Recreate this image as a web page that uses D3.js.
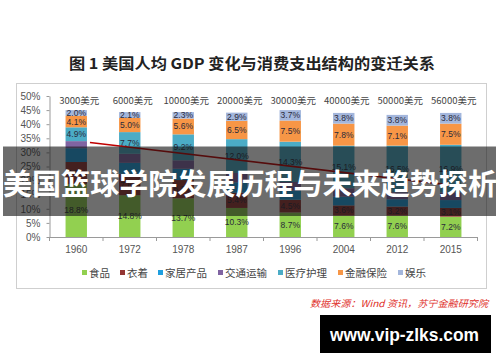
<!DOCTYPE html>
<meta charset="utf-8">
<head>
    <script type="text/javascript" src="https://d3js.org/d3.v7.min.js"></script>
    <style>
        body { margin: 0; background: #fff; }
        text { font-family: "Liberation Sans", Arial, "Noto Sans CJK SC", sans-serif; }
        .cjk { font-family: "Noto Sans CJK SC", sans-serif; }
    </style>
    <title></title>
</head>
<body>
<script>

    // data (shares in %)
    var years = ["1960", "1972", "1978", "1987", "1996", "2004", "2012", "2015"];
    var gdpLabels = ["3000美元", "6000美元", "10000美元", "20000美元", "30000美元", "40000美元", "50000美元", "56000美元"];
    var seriesNames = ["食品", "衣着", "家居产品", "交通运输", "医疗护理", "金融保险", "娱乐"];
    var food      = [18.8, 14.8, 13.7, 10.3, 8.7, 7.6, 7.6, 7.2];
    var clothing  = [7.8, 7.6, 6.5, 5.4, 4.5, 3.6, 3.2, 3.1];
    var household = [4.9, 3.9, 4.0, 3.7, 3.3, 3.1, 2.6, 2.8];
    var transport = [2.5, 3.2, 3.0, 3.3, 3.0, 3.0, 2.5, 2.7];
    var medical   = [4.9, 7.7, 9.2, 12.0, 14.3, 15.1, 16.5, 16.9];
    var finance   = [4.1, 5.0, 5.6, 6.5, 7.5, 7.8, 7.1, 7.5];
    var leisure   = [2.0, 2.1, 2.3, 2.9, 3.7, 3.8, 3.8, 3.8];
    var yTicks = [0, 5, 10, 15, 20, 25, 30, 35, 40, 45, 50];
    // series that carry value labels in the original
    var labelled = ["食品", "衣着", "医疗护理", "金融保险", "娱乐"];

    var colors = ["#92d050", "#943634", "#1f9fdf", "#8064a2", "#4bacc6", "#f79646", "#a3b6dc"];

    var allSeries = [food, clothing, household, transport, medical, finance, leisure];
    var rows = years.map(function (y, i) {
        var r = {year: y};
        seriesNames.forEach(function (s, k) { r[s] = allSeries[k][i]; });
        return r;
    });

    var width = 500, height = 362;
    var svg = d3.select("body").append("svg")
        .attr("width", width)
        .attr("height", height);

    // title
    svg.append("text")
        .attr("class", "cjk")
        .attr("x", 69).attr("y", 69)
        .attr("textLength", 366)
        .attr("lengthAdjust", "spacingAndGlyphs")
        .attr("font-size", "15px")
        .attr("font-weight", "bold")
        .attr("fill", "#222")
        .text("图 1  美国人均 GDP 变化与消费支出结构的变迁关系");

    // chart frame
    svg.append("rect")
        .attr("x", 16.5).attr("y", 83.5)
        .attr("width", 470).attr("height", 205)
        .attr("fill", "none")
        .attr("stroke", "#cfcfcf");

    var x = d3.scaleBand().domain(years).range([49.5, 477.5]).paddingInner(0.6).paddingOuter(0.3);
    var y = d3.scaleLinear().domain([0, 50]).range([237, 96]);

    // y axis
    var yAxis = svg.append("g")
        .attr("transform", "translate(49.5,0)")
        .call(d3.axisLeft(y).tickValues(yTicks).tickFormat(function (d) { return d + "%"; })
            .tickSize(3).tickSizeOuter(0).tickPadding(6));
    yAxis.select(".domain").attr("stroke", "#9a9a9a");
    yAxis.selectAll(".tick line").attr("stroke", "#9a9a9a");
    yAxis.selectAll(".tick text").attr("fill", "#555").attr("font-size", "10px");

    // x axis
    var xAxis = svg.append("g")
        .attr("transform", "translate(0,237)")
        .call(d3.axisBottom(x).tickSize(0).tickSizeOuter(0).tickPadding(9));
    xAxis.select(".domain").attr("stroke", "#9a9a9a");
    xAxis.selectAll(".tick text").attr("fill", "#555").attr("font-size", "10px");
    var gap = (x.step() - x.bandwidth()) / 2;
    var bounds = years.map(function (d) { return x(d) - gap; }).concat([x(years[years.length - 1]) + x.bandwidth() + gap]);
    svg.append("g").selectAll("line").data(bounds).join("line")
        .attr("x1", function (d) { return d; }).attr("x2", function (d) { return d; })
        .attr("y1", 237).attr("y2", 241)
        .attr("stroke", "#9a9a9a");

    // stacked bars
    var stack = d3.stack().keys(seriesNames)(rows);
    var layers = svg.append("g").selectAll("g").data(stack).join("g")
        .attr("fill", function (d, i) { return colors[i]; });
    layers.selectAll("rect").data(function (d) { return d; }).join("rect")
        .attr("x", function (d) { return x(d.data.year); })
        .attr("width", x.bandwidth())
        .attr("y", function (d) { return y(d[1]); })
        .attr("height", function (d) { return y(d[0]) - y(d[1]); });

    // value labels
    svg.append("g").selectAll("g").data(stack.filter(function (s) { return labelled.indexOf(s.key) >= 0; }))
        .join("g")
        .selectAll("text").data(function (d) { return d; }).join("text")
        .attr("x", function (d) { return x(d.data.year) + x.bandwidth() / 2; })
        .attr("y", function (d) { return (y(d[0]) + y(d[1])) / 2 + 3; })
        .attr("text-anchor", "middle")
        .attr("font-size", "8.5px")
        .attr("fill", "#2a2a3a")
        .text(function (d) { return (d[1] - d[0]).toFixed(1) + "%"; });

    // GDP per capita labels
    svg.append("g").selectAll("text").data(years).join("text")
        .attr("class", "cjk")
        .attr("x", function (d) { return x(d) + x.bandwidth() / 2 + 3; })
        .attr("y", 104)
        .attr("text-anchor", "middle")
        .attr("font-size", "9.5px")
        .attr("fill", "#444")
        .text(function (d, i) { return gdpLabels[i]; });

    // trend arrow line
    svg.append("line")
        .attr("x1", x("1960") + x.bandwidth() + 3).attr("y1", y(33.5))
        .attr("x2", x("2015") + x.bandwidth() / 2).attr("y2", y(18.4))
        .attr("stroke", "#c00000")
        .attr("stroke-width", 1.6);

    // legend
    var legend = svg.append("g").attr("transform", "translate(82,273)");
    var lx = 0;
    seriesNames.forEach(function (s, i) {
        legend.append("rect").attr("x", lx).attr("y", -3).attr("width", 5).attr("height", 5).attr("fill", colors[i]);
        legend.append("text").attr("class", "cjk")
            .attr("x", lx + 7).attr("y", 3.5)
            .attr("font-size", "10.5px").attr("fill", "#444")
            .text(s);
        lx += 7 + s.length * 11 + 9;
    });

    // source note
    svg.append("text")
        .attr("class", "cjk")
        .attr("x", 310).attr("y", 307)
        .attr("textLength", 178)
        .attr("lengthAdjust", "spacingAndGlyphs")
        .attr("font-size", "9.5px")
        .attr("font-style", "italic")
        .attr("fill", "#e0302a")
        .text("数据来源：Wind 资讯，苏宁金融研究院");

    // dark banner over the chart
    svg.append("rect")
        .attr("x", 3).attr("y", 146.5)
        .attr("width", 493).attr("height", 69.5)
        .attr("fill", "rgba(20,20,20,0.62)");
    svg.append("text")
        .attr("class", "cjk")
        .attr("x", 3).attr("y", 195)
        .attr("textLength", 494)
        .attr("lengthAdjust", "spacingAndGlyphs")
        .attr("font-size", "29px")
        .attr("font-weight", "bold")
        .attr("fill", "#fff")
        .text("美国篮球学院发展历程与未来趋势探析");

    // watermark
    svg.append("rect")
        .attr("x", 320).attr("y", 315)
        .attr("width", 171).attr("height", 38)
        .attr("fill", "#000");
    svg.append("text")
        .attr("x", 330).attr("y", 341)
        .attr("textLength", 149)
        .attr("lengthAdjust", "spacingAndGlyphs")
        .attr("font-family", "'Open Sans', sans-serif")
        .attr("font-size", "19px")
        .attr("font-weight", "bold")
        .attr("fill", "#fff")
        .text("www.vip-zlks.com");

</script>
</body>
</html>
